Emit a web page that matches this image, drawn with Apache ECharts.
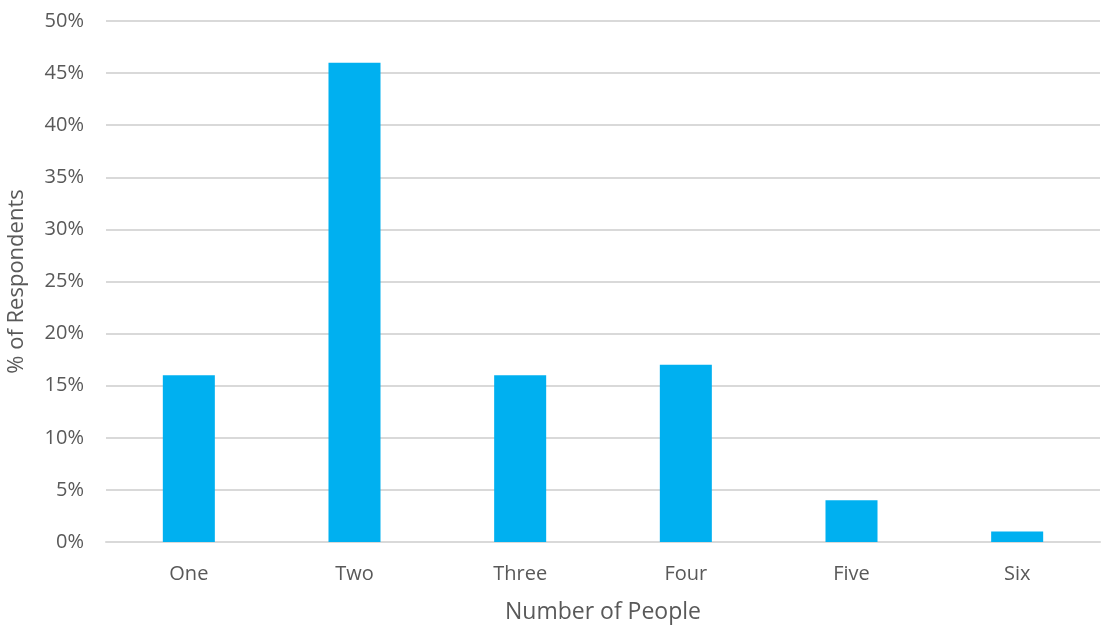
<!DOCTYPE html>
<html><head><meta charset="utf-8">
<script src="https://cdn.jsdelivr.net/npm/echarts@6/dist/echarts.min.js"></script>
<style>html,body{margin:0;padding:0;background:#fff}#c{width:1104px;height:625px}</style>
</head><body><div id="c"></div>
<script>
const categories = ['One','Two','Three','Four','Five','Six'];
const values = [16, 46, 16, 17, 4, 1];
const yTicks = [0,5,10,15,20,25,30,35,40,45,50];

const chart = echarts.init(document.getElementById('c'), null, {renderer:'canvas'});
const font = '"Open Sans", sans-serif';
chart.setOption({
  animation:false,
  grid:{left:106, right:4, top:21, bottom:83, outerBoundsMode:'none', containLabel:false},
  xAxis:{
    type:'category', data:categories,
    name:'Number of People', nameLocation:'middle', nameGap:59,
    nameTextStyle:{fontFamily:font, fontSize:23, color:'#595959'},
    axisLine:{show:true, lineStyle:{color:'#d9d9d9', width:2}},
    axisTick:{show:false},
    axisLabel:{fontFamily:font, fontSize:20, color:'#595959', margin:22}
  },
  yAxis:{
    type:'value', min:yTicks[0], max:yTicks[yTicks.length-1], interval:5,
    name:'% of Respondents', nameLocation:'middle', nameGap:78,
    nameTextStyle:{fontFamily:font, fontSize:22, color:'#595959'},
    axisLine:{show:false}, axisTick:{show:false},
    axisLabel:{fontFamily:font, fontSize:20, color:'#595959', margin:22, formatter:v=>v+'%'},
    splitLine:{lineStyle:{color:'#d9d9d9', width:2}}
  },
  series:[{type:'bar', data:values, barWidth:'31.4%', itemStyle:{color:'#00b0f0'}}]
});
</script></body></html>
